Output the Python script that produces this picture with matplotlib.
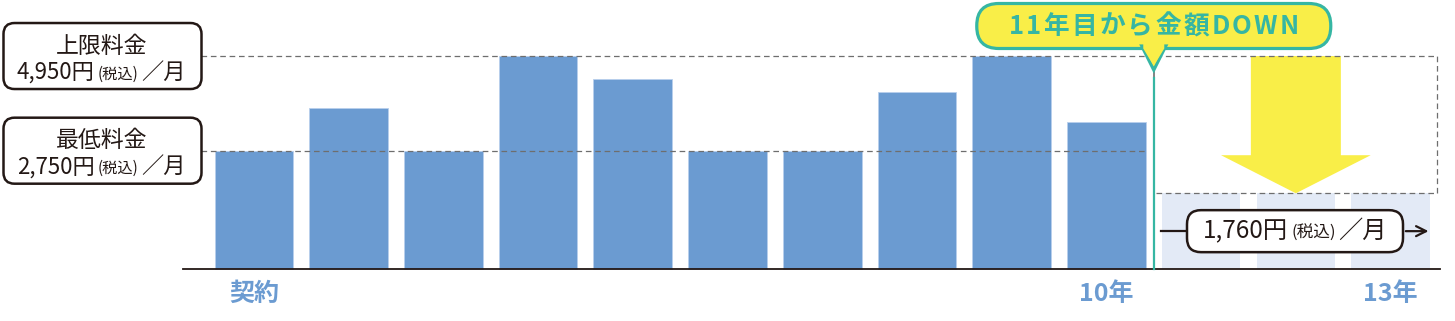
import numpy as np
import matplotlib.pyplot as plt
from matplotlib.patches import FancyBboxPatch, Polygon
from matplotlib.offsetbox import TextArea, HPacker, AnnotationBbox

plt.rcParams['font.family'] = ['Noto Sans CJK JP', 'DejaVu Sans']

# データ（月額料金, 円）
years = np.arange(1, 11)
fees = [2750, 3740, 2750, 4950, 4420, 2750, 2750, 4110, 4950, 3420]
later_years = [11, 12, 13]
later_fees = [1760, 1760, 1760]
fee_max = 4950
fee_min = 2750
fee_after = 1760
tick_pos = [1, 10, 13]
tick_labels = ['契約', '10年', '13年']

W, H = 1455, 321
BLUE = '#6b9bd1'
LIGHT = '#e3eaf6'
TEAL = '#36b6a3'
YELLOW = '#f9ee48'
INK = '#231815'
GRAY = '#6e6e6e'

fig = plt.figure(figsize=(W / 100, H / 100), dpi=100)
ax = fig.add_axes([0, 0, 1, 1])
ax.set_xlim(-1.68, 13.68)
ax.set_ylim(-1208, 6252)
ax.axis('off')

# 上に重ねる注記用（ピクセル座標）
ov = fig.add_axes([0, 0, 1, 1], facecolor='none')
ov.set_xlim(0, W)
ov.set_ylim(H, 0)
ov.axis('off')


def to_px(x, y):
    dx, dy = ax.transData.transform((x, y))
    return dx, H - dy


# 棒
ax.bar(years, fees, width=0.83, color=BLUE, edgecolor='#b8cfec', linewidth=0.6, zorder=2)
ax.bar(later_years, later_fees, width=0.83, color=LIGHT, zorder=1)

# 点線
split = 10.5
left_end, right_end = 0.44, 13.49
dash = dict(color=GRAY, lw=0.9, ls=(0, (4.5, 3)), zorder=3)
ax.plot([left_end, split], [fee_max, fee_max], **dash)
ax.plot([split + 0.02, right_end], [fee_max, fee_max], **dash)
ax.plot([left_end, 10.42], [fee_min, fee_min], **dash)
ax.plot([split + 0.02, right_end], [fee_after, fee_after], **dash)
ax.plot([right_end, right_end], [fee_after, fee_max], **dash)

# 黄色い矢印
c, shaft, head, head_len = 12, 0.475, 0.79, 885
arrow = Polygon([(c - shaft, fee_max), (c + shaft, fee_max), (c + shaft, fee_after + head_len),
                 (c + head, fee_after + head_len), (c, fee_after), (c - head, fee_after + head_len),
                 (c - shaft, fee_after + head_len)], closed=True, fc=YELLOW, ec='none', zorder=2.5)
ax.add_patch(arrow)

# 軸線
ax.plot([0.25, 13.52], [0, 0], color=INK, lw=1.3, zorder=4)

# x ラベル
for p, t in zip(tick_pos, tick_labels):
    ax.text(p, -580, t, ha='center', va='center', fontsize=18, fontweight='bold', color=BLUE)

# 吹き出し
sx, base_y = to_px(split, 0)
tip_y = 70
ov.plot([sx, sx], [tip_y, tip_y + 7], color=GRAY, lw=1.2, zorder=5)
ov.plot([sx, sx], [tip_y + 8, base_y], color=TEAL, lw=1.6, zorder=5)
bub = FancyBboxPatch((sx - 177, 3.5), 354, 45, boxstyle='round,pad=0,rounding_size=22',
                     fc=YELLOW, ec=TEAL, lw=2.3, zorder=6)
ov.add_patch(bub)
ov.add_patch(Polygon([(sx - 12, 46), (sx, tip_y), (sx + 12, 46)], closed=True,
                     fc=YELLOW, ec=TEAL, lw=2.3, joinstyle='miter', zorder=6))
ov.add_patch(Polygon([(sx - 10.5, 43), (sx - 10.5, 48.5), (sx, 66), (sx + 10.5, 48.5), (sx + 10.5, 43)],
                     closed=True, fc=YELLOW, ec='none', zorder=7))
chars = [TextArea(ch, textprops=dict(size=18.5, color=TEAL, weight='bold')) for ch in '11年目から金額DOWN']
ov.add_artist(AnnotationBbox(HPacker(children=chars, align='baseline', pad=0, sep=1.6),
                             (sx, 26), xycoords='data', frameon=False, pad=0, zorder=8))


def rbox(x0, x1, cy, h, r, lw):
    ov.add_patch(FancyBboxPatch((x0, cy - h / 2), x1 - x0, h,
                                boxstyle=f'round,pad=0,rounding_size={r}',
                                fc='white', ec=INK, lw=lw, zorder=6))


def price_line(xy, price, big, small):
    parts = [TextArea(price, textprops=dict(size=big, color=INK)),
             TextArea('(税込)', textprops=dict(size=small, color=INK)),
             TextArea('／月', textprops=dict(size=big, color=INK))]
    ov.add_artist(AnnotationBbox(HPacker(children=parts, align='baseline', pad=0, sep=2),
                                 xy, xycoords='data', frameon=False, pad=0, zorder=8))


# 左の料金ラベル
for val, title, price in [(fee_max, '上限料金', '4,950円'), (fee_min, '最低料金', '2,750円')]:
    _, cy = to_px(0, val)
    rbox(3.5, 201.5, cy, 66, 11, 1.8)
    ov.text(102, cy - 10, title, ha='center', va='center', fontsize=16.5, color=INK, zorder=8)
    price_line((101, cy + 16), price, 16, 11)

# 右の料金ラベル
_, cy = to_px(0, fee_after / 2)
x_start, _ = to_px(10.58, 0)
x_end, _ = to_px(13.43, 0)
rbox(1187, 1403, cy, 42, 14, 1.8)
ov.plot([x_start, 1187], [cy, cy], color=INK, lw=1.6, zorder=5)
ov.annotate('', xy=(x_end, cy), xytext=(1403, cy),
            arrowprops=dict(arrowstyle='->', lw=1.6, color=INK, mutation_scale=18), zorder=5)
price_line((1295, cy), '1,760円', 17.5, 12)

fig.savefig('out.png', dpi=100)
